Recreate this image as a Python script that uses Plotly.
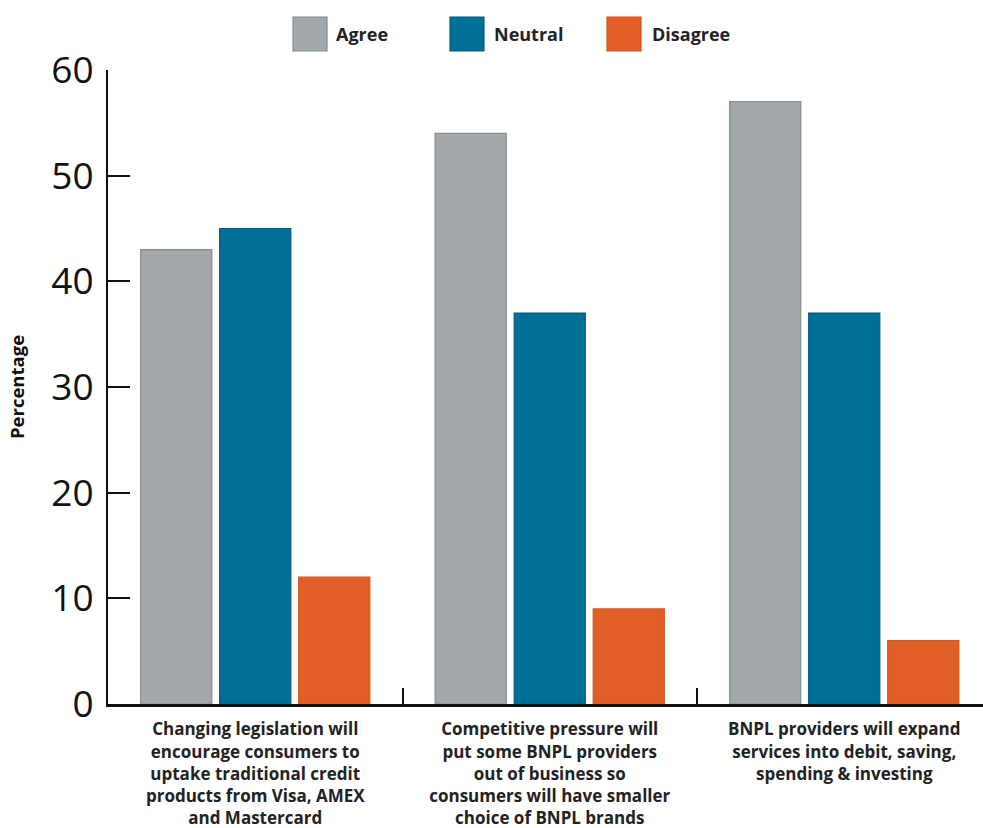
import plotly.graph_objects as go

categories = [
    "Changing legislation will<br>encourage consumers to<br>uptake traditional credit<br>products from Visa, AMEX<br>and Mastercard",
    "Competitive pressure will<br>put some BNPL providers<br>out of business so<br>consumers will have smaller<br>choice of BNPL brands",
    "BNPL providers will expand<br>services into debit, saving,<br>spending & investing",
]
series_names = ["Agree", "Neutral", "Disagree"]
agree = [43, 54, 57]
neutral = [45, 37, 37]
disagree = [12, 9, 6]
y_ticks = [0, 10, 20, 30, 40, 50, 60]

colors = ["#A2A8AB", "#006F96", "#E25E27"]
outlines = ["#868B8E", "#005E80", "#D55520"]
values = [agree, neutral, disagree]

FONT = "Open Sans"
W, H = 983, 828
ML, MR, MT, MB = 108, 0, 70, 124
pw = W - ML - MR
ph = H - MT - MB

fig = go.Figure()
for name, vals, c, oc in zip(series_names, values, colors, outlines):
    fig.add_trace(go.Bar(
        x=categories, y=vals, name=name, marker_color=c,
        marker_line=dict(color=oc, width=1.2),
        showlegend=False,
    ))

# manual legend (large square swatches)
legend_box_x = [293, 450, 607]
legend_text_x = [334, 492, 650]
for name, c, oc, bx, tx in zip(series_names, colors, outlines, legend_box_x, legend_text_x):
    fig.add_shape(type="rect", xref="paper", yref="paper",
                  x0=(bx - ML) / pw, x1=(bx + 34 - ML) / pw,
                  y0=(H - MB - 51) / ph, y1=(H - MB - 17) / ph,
                  fillcolor=c, line=dict(color=oc, width=1.2))
    fig.add_annotation(xref="paper", yref="paper", x=(tx - ML) / pw, y=(H - MB - 34) / ph,
                       text=f"<b>{name}</b>", showarrow=False, xanchor="left", yanchor="middle",
                       font=dict(family=FONT, size=18, color="#222222"))

cat_w = 294.5
fig.update_layout(
    width=W, height=H,
    margin=dict(l=ML, r=MR, t=MT, b=MB, autoexpand=False),
    paper_bgcolor="white", plot_bgcolor="white",
    barmode="group", bargap=0.195, bargroupgap=0.10,
    font=dict(family=FONT, color="#222222"),
    xaxis=dict(
        type="category", categoryorder="array", categoryarray=categories,
        tickson="boundaries",
        range=[-0.5, -0.5 + pw / cat_w],
        showline=True, linecolor="#111111", linewidth=3,
        ticks="inside", ticklen=16, tickwidth=1.5, tickcolor="#111111",
        tickfont=dict(family=FONT, size=17, color="#222222", weight="bold"),
        showgrid=False, zeroline=False, fixedrange=True,
        ticklabelstandoff=8,
    ),
    yaxis=dict(
        range=[0, 60], tickvals=y_ticks,
        showline=True, linecolor="#111111", linewidth=2,
        ticks="inside", ticklen=22, tickwidth=2, tickcolor="#111111",
        tickfont=dict(family=FONT, size=37, color="#111111"),
        showgrid=False, zeroline=False,
        ticklabelstandoff=5,
        title=dict(text="<b>Percentage</b>", font=dict(family=FONT, size=18.5, color="#111111"), standoff=22),
    ),
)

fig.write_html("out.html")
